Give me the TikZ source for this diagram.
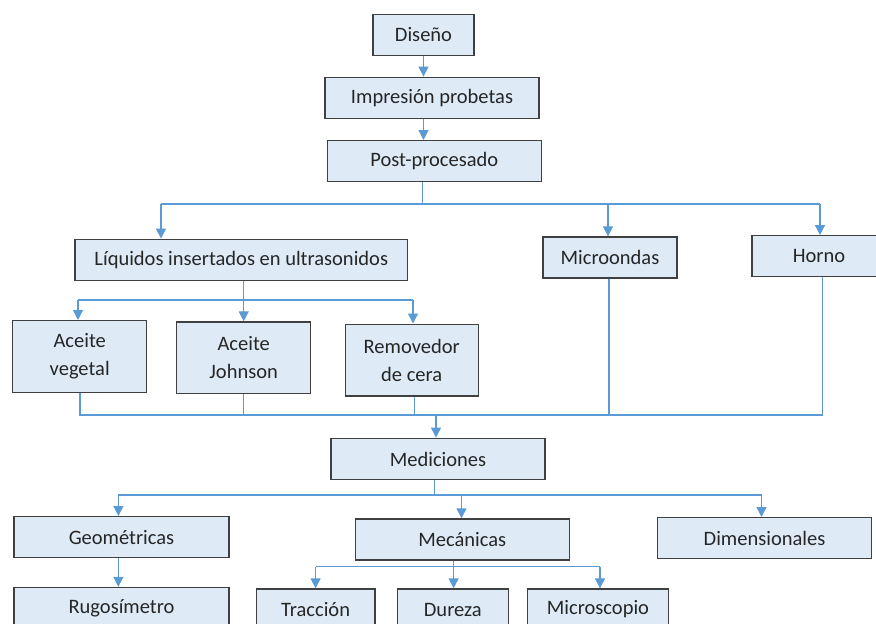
\documentclass[tikz,border=0pt]{standalone}
\usepackage{fontspec}
\setmainfont{Carlito}
\usetikzlibrary{arrows.meta}
\definecolor{relleno}{HTML}{DEEBF7}
\definecolor{borde}{HTML}{404040}
\definecolor{azul}{HTML}{5B9BD5}
\definecolor{texto}{HTML}{262626}
\tikzset{
	caja/.style={draw=borde, fill=relleno, line width=1.4pt, inner sep=0pt,
		minimum height=41pt, align=center, text=texto,
		font=\fontsize{20.5}{28}\selectfont},
	linea/.style={draw=azul, line width=1.3pt},
	flecha/.style={linea, -{Triangle[width=10pt,length=10pt]}}
}
\begin{document}
\begin{tikzpicture}[x=1pt, y=-1pt]
	\useasboundingbox (0,0) rectangle (876,624);
	\clip (0,0) rectangle (876,624);
	\node[caja, minimum width=101pt] (disenio) at (423.5,35) {Diseño};
	\node[caja, minimum width=214pt] (impresion) at (432,97.8) {Impresión probetas};
	\node[caja, minimum width=214pt] (post) at (434.3,161.2) {Post-procesado};
	\node[caja, minimum width=332.7pt] (liq) at (241.3,259.8) {Líquidos insertados en ultrasonidos};
	\node[caja, minimum width=134pt] (micro) at (610,257.5) {Microondas};
	\node[caja, minimum width=134pt] (horno) at (819,256.2) {Horno};
	\node[caja, minimum width=134pt, minimum height=71.6pt] (veg) at (79.7,356.5) {Aceite\\vegetal};
	\node[caja, minimum width=134pt, minimum height=71.6pt] (john) at (243.7,357.8) {Aceite\\Johnson};
	\node[caja, minimum width=133pt, minimum height=71.6pt] (remov) at (411.7,360) {Removedor\\de cera};
	\node[caja, minimum width=214pt, minimum height=41.5pt] (medic) at (438,459) {Mediciones};
	\node[caja, minimum width=215pt] (geom) at (121.5,537.2) {Geométricas};
	\node[caja, minimum width=214pt] (mecan) at (462.3,539.5) {Mecánicas};
	\node[caja, minimum width=214pt] (dimen) at (764.5,538.2) {Dimensionales};
	\node[caja, minimum width=215pt] (rugo) at (121.5,608) {Rugosímetro};
	\node[caja, minimum width=118.5pt] (tracc) at (315.6,609.5) {Tracción};
	\node[caja, minimum width=111.2pt] (dureza) at (452.8,609.5) {Dureza};
	\node[caja, minimum width=141.3pt] (micros) at (598,609.5) {Microscopio};
	\coordinate (r1) at (422.7,204);
	\coordinate (r1a) at (161,204);
	\coordinate (r1b) at (608,204);
	\coordinate (r1c) at (820,204);
	\coordinate (r2) at (243.7,300);
	\coordinate (r2a) at (78,300);
	\coordinate (r2b) at (413,300);
	\coordinate (r3) at (436,415);
	\coordinate (r3a) at (80,415);
	\coordinate (r3b) at (822.7,415);
	\coordinate (r4) at (434.6,495);
	\coordinate (r4a) at (118.4,495);
	\coordinate (r4b) at (461.5,495);
	\coordinate (r4c) at (761.5,495);
	\coordinate (r5) at (453.6,566.7);
	\coordinate (r5a) at (315.6,566.7);
	\coordinate (r5b) at (600,566.7);
	\draw[flecha] (disenio.south) -- (disenio.south |- impresion.north);
	\draw[flecha] (impresion.south -| disenio.south) -- (post.north -| disenio.south);
	\draw[linea] (post.south -| r1) -- (r1);
	\draw[linea] (r1a) -- (r1c);
	\draw[flecha] (r1a) -- (r1a |- liq.north);
	\draw[flecha] (r1b) -- (r1b |- micro.north);
	\draw[flecha] (r1c) -- (r1c |- horno.north);
	\draw[linea] (liq.south -| r2) -- (r2);
	\draw[linea] (r2a) -- (r2b);
	\draw[flecha] (r2a) -- (r2a |- veg.north);
	\draw[flecha] (r2) -- (john.north);
	\draw[flecha] (r2b) -- (r2b |- remov.north);
	\draw[linea] (veg.south -| r3a) -- (r3a) -- (r3b) -- (r3b |- horno.south);
	\draw[linea] (john.south) -- (john.south |- r3);
	\draw[linea] (remov.south -| 414.7,0) -- (414.7,415);
	\draw[linea] (micro.south -| 609,0) -- (609,415);
	\draw[flecha] (r3) -- (r3 |- medic.north);
	\draw[linea] (medic.south -| r4) -- (r4);
	\draw[linea] (r4a) -- (r4c);
	\draw[flecha] (r4a) -- (r4a |- geom.north);
	\draw[flecha] (r4b) -- (r4b |- mecan.north);
	\draw[flecha] (r4c) -- (r4c |- dimen.north);
	\draw[flecha] (geom.south -| r4a) -- (rugo.north -| r4a);
	\draw[linea] (mecan.south -| r5) -- (r5);
	\draw[linea] (r5a) -- (r5b);
	\draw[flecha] (r5a) -- (r5a |- tracc.north);
	\draw[flecha] (r5) -- (r5 |- dureza.north);
	\draw[flecha] (r5b) -- (r5b |- micros.north);
\end{tikzpicture}
\end{document}
